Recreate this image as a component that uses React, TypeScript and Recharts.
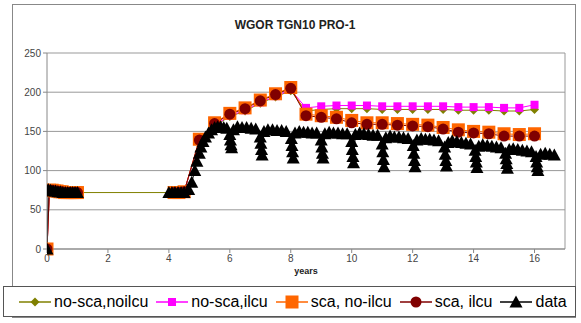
import { LineChart, Line, XAxis, YAxis, CartesianGrid, ReferenceLine } from "recharts";

// model runs share one time base (years); null breaks a line
const modelYears = [
  0, 0.08, 0.17, 0.25, 0.33, 0.42, 0.5, 0.58, 0.67, 0.75, 0.83, 0.92, 1.0,
  2.5, 4.17, 4.33, 4.5,
  5.0, 5.5, 6.0, 6.5, 7.0, 7.5, 8.0, 8.5, 9.0, 9.5, 10.0, 10.5, 11.0, 11.5,
  12.0, 12.5, 13.0, 13.5, 14.0, 14.5, 15.0, 15.5, 16.0,
];

const noScaNoIlcu = [
  0, 75, 75, 74, 74, 73, 73, 72, 72, 72, 72, 72, 72,
  null, 72, 72, 73,
  137, 157, 169, 176, 186, 194, 202, 176, 178, 179, 179, 179, 178, 178,
  178, 178, 178, 177, 177, 177, 176, 176, 178,
];
const noScaIlcu = [
  0, 75, 75, 74, 74, 73, 73, 72, 72, 72, 72, 72, 72,
  null, 72, 72, 73,
  138, 158, 170, 177, 187, 195, 203, 180, 182, 183, 183, 183, 182, 182,
  182, 182, 182, 181, 181, 181, 180, 180, 184,
];
const scaNoIlcu = [
  0, 75, 75, 74, 74, 73, 73, 72, 72, 72, 72, 72, 72,
  null, 72, 72, 73,
  140, 161, 173, 180, 190, 198, 206, 172, 170, 168, 164, 161, 161, 160,
  159, 158, 155, 152, 150, 149, 147, 146, 147,
];
const scaIlcu = [
  0, 75, 75, 74, 74, 73, 73, 72, 72, 72, 72, 72, 72,
  null, 72, 72, 73,
  139, 160, 172, 179, 189, 197, 205, 170, 168, 166, 161, 159, 159, 158,
  157, 156, 153, 149, 148, 147, 144, 144, 144,
];

// measured data
const dataYears = [
  0, 0.04, 0.12, 0.2, 0.28, 0.36, 0.44, 0.52, 0.6, 0.68, 0.76, 0.84, 0.92, 1.0,
  2.5,
  4.0, 4.1, 4.2, 4.3, 4.4, 4.5,
  4.65, 4.75, 4.85, 4.92, 5.0, 5.05, 5.12, 5.2, 5.3, 5.4, 5.5, 5.6, 5.7, 5.8, 5.9,
  6.0, 6.02, 6.04, 6.06, 6.12, 6.25, 6.4, 6.55, 6.7, 6.85,
  7.0, 7.02, 7.04, 7.06, 7.12, 7.25, 7.4, 7.55, 7.7, 7.85,
  8.02, 8.04, 8.06, 8.08, 8.14, 8.28, 8.42, 8.56, 8.7, 8.85,
  9.0, 9.02, 9.04, 9.06, 9.12, 9.26, 9.4, 9.55, 9.7, 9.85,
  10.0, 10.02, 10.04, 10.06, 10.12, 10.26, 10.4, 10.55, 10.7, 10.85,
  11.0, 11.02, 11.04, 11.06, 11.12, 11.26, 11.4, 11.55, 11.7, 11.85,
  12.02, 12.04, 12.06, 12.08, 12.14, 12.28, 12.42, 12.56, 12.7, 12.85,
  13.05, 13.07, 13.09, 13.11, 13.17, 13.3, 13.45, 13.6, 13.75, 13.9,
  14.05, 14.07, 14.09, 14.11, 14.17, 14.3, 14.45, 14.6, 14.75, 14.9,
  15.05, 15.07, 15.09, 15.11, 15.17, 15.3, 15.45, 15.6, 15.75, 15.9,
  16.05, 16.07, 16.09, 16.11, 16.2, 16.35, 16.5, 16.65,
];
const dataValues = [
  0, 76, 75, 74, 74, 73, 73, 72, 72, 72, 72, 72, 72, 72,
  null,
  72, 72, 72, 72, 72, 72,
  76, 85, 100, 112, 122, 130, 137, 143, 148, 152, 155, 156, 156, 155, 154,
  146, 139, 133, 129, 152, 156, 155, 155, 154, 153,
  143, 135, 127, 120, 150, 152, 152, 151, 151, 150,
  141, 132, 124, 116, 148, 150, 149, 149, 148, 148,
  139, 130, 122, 116, 147, 149, 148, 148, 147, 147,
  137, 127, 118, 110, 146, 148, 147, 146, 145, 145,
  134, 124, 114, 105, 142, 144, 143, 143, 142, 141,
  132, 122, 113, 105, 139, 141, 140, 140, 139, 138,
  130, 121, 113, 106, 136, 138, 137, 136, 135, 134,
  126, 118, 111, 104, 131, 133, 132, 131, 130, 129,
  122, 115, 109, 103, 127, 128, 127, 126, 125, 124,
  118, 111, 105, 100, 121, 122, 121, 120,
];

const yTicks = [0, 50, 100, 150, 200, 250];
const xTicks = [0, 2, 4, 6, 8, 10, 12, 14, 16];

const toPoints = (years: number[], values: (number | null)[]) =>
  years.map((t, i) => ({ t, v: values[i] }));

type Shape = "diamond" | "square" | "bigSquare" | "circle" | "triangle";

function Marker({ shape, x, y, color }: { shape: Shape; x: number; y: number; color: string }) {
  switch (shape) {
    case "diamond":
      return <polygon points={`${x},${y - 4.5} ${x + 4.5},${y} ${x},${y + 4.5} ${x - 4.5},${y}`} fill={color} />;
    case "square":
      return <rect x={x - 4} y={y - 4} width={8} height={8} fill={color} />;
    case "bigSquare":
      return <rect x={x - 6.5} y={y - 6.5} width={13} height={13} fill={color} />;
    case "circle":
      return <circle cx={x} cy={y} r={5.5} fill={color} />;
    default:
      return <polygon points={`${x},${y - 6.5} ${x + 6.5},${y + 5.5} ${x - 6.5},${y + 5.5}`} fill={color} />;
  }
}

const dotFor = (shape: Shape, color: string) => (props: any) => {
  const { cx, cy, value, index } = props;
  if (value == null || cy == null || isNaN(cy)) return <g key={`e${index}`} />;
  return (
    <g key={`d${index}`}>
      <Marker shape={shape} x={cx} y={cy} color={color} />
    </g>
  );
};

const series = [
  { name: "no-sca,noilcu", values: noScaNoIlcu, color: "#808000", shape: "diamond" as Shape, connect: true },
  { name: "no-sca,ilcu", values: noScaIlcu, color: "#ff00ff", shape: "square" as Shape, connect: false },
  { name: "sca, no-ilcu", values: scaNoIlcu, color: "#ff6600", shape: "bigSquare" as Shape, connect: false },
  { name: "sca, ilcu", values: scaIlcu, color: "#800000", shape: "circle" as Shape, connect: false },
];

const font = "Arial, 'Liberation Sans', sans-serif";

function LegendItem({ name, color, shape }: { name: string; color: string; shape: Shape }) {
  return (
    <div style={{ display: "flex", alignItems: "center", marginRight: 7 }}>
      <svg width={34} height={16}>
        <line x1={1} y1={8} x2={33} y2={8} stroke={color} strokeWidth={1.5} />
        <Marker shape={shape} x={17} y={8} color={color} />
      </svg>
      <span style={{ fontSize: 16, color: "#000", marginLeft: 2 }}>{name}</span>
    </div>
  );
}

export default function App() {
  return (
    <div
      style={{
        position: "absolute",
        left: 0,
        top: 0,
        width: 581,
        height: 323,
        background: "#fff",
        fontFamily: font,
        overflow: "hidden",
      }}
    >
      <div
        style={{
          position: "absolute",
          left: 12,
          top: 4,
          width: 564,
          height: 314,
          border: "1px solid #888",
          boxSizing: "border-box",
        }}
      />
      <div
        style={{
          position: "absolute",
          left: 0,
          width: 590,
          top: 18,
          textAlign: "center",
          fontSize: 12,
          fontWeight: "bold",
          color: "#222",
        }}
      >
        WGOR TGN10 PRO-1
      </div>
      <div style={{ position: "absolute", left: 0, top: 0 }}>
        <LineChart width={581} height={323} margin={{ top: 53, right: 16, bottom: 54, left: 17 }}>
          <CartesianGrid vertical={false} stroke="#999" strokeWidth={1} />
          <XAxis
            dataKey="t"
            type="number"
            domain={[0, 17]}
            ticks={xTicks}
            allowDataOverflow
            height={20}
            tickSize={4}
            tick={{ fontSize: 10, fill: "#444" }}
            stroke="#888"
          />
          <YAxis
            type="number"
            domain={[0, 250]}
            ticks={yTicks}
            width={30}
            tickSize={4}
            tick={{ fontSize: 10, fill: "#444" }}
            stroke="#888"
          />
          <ReferenceLine x={17} stroke="#999" />
          {series.map((s) => (
            <Line
              key={s.name}
              data={toPoints(modelYears, s.values)}
              dataKey="v"
              name={s.name}
              stroke={s.color}
              strokeWidth={1}
              connectNulls={s.connect}
              dot={dotFor(s.shape, s.color)}
              activeDot={false}
              isAnimationActive={false}
            />
          ))}
          <Line
            data={toPoints(dataYears, dataValues)}
            dataKey="v"
            name="data"
            stroke="#000"
            strokeWidth={1}
            dot={dotFor("triangle", "#000")}
            activeDot={false}
            isAnimationActive={false}
          />
        </LineChart>
      </div>
      <div
        style={{
          position: "absolute",
          left: 0,
          width: 612,
          top: 266,
          textAlign: "center",
          fontSize: 9,
          fontWeight: "bold",
          color: "#222",
        }}
      >
        years
      </div>
      <div
        style={{
          position: "absolute",
          left: 3,
          top: 286,
          width: 573,
          height: 31,
          border: "1px solid #555",
          boxSizing: "border-box",
          background: "#fff",
          display: "flex",
          alignItems: "center",
          paddingLeft: 14,
        }}
      >
        {series.map((s) => (
          <LegendItem key={s.name} name={s.name} color={s.color} shape={s.shape} />
        ))}
        <LegendItem name="data" color="#000" shape="triangle" />
      </div>
    </div>
  );
}
